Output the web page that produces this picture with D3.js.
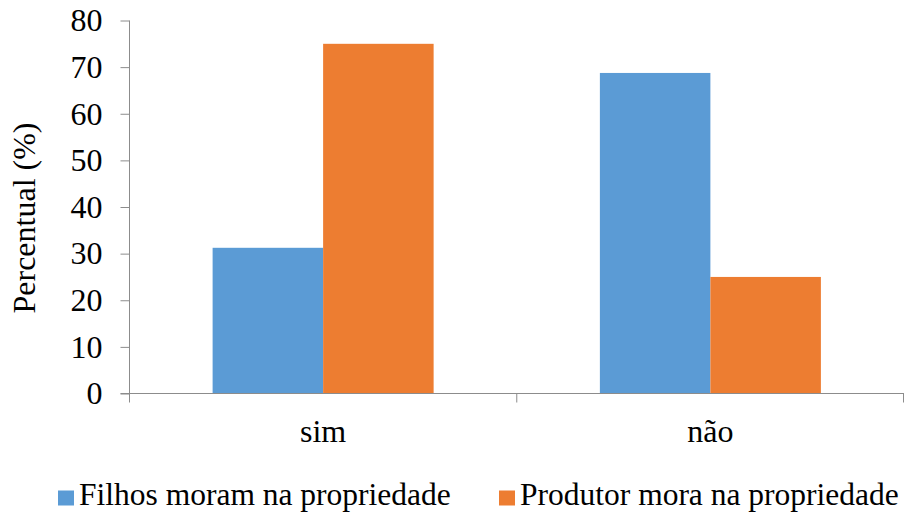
<!DOCTYPE html>
<html>
<head>
<meta charset="utf-8">
<script src="https://cdn.jsdelivr.net/npm/d3@7"></script>
<style>
  html, body { margin: 0; padding: 0; background: #fff; }
  #chart text { font-family: "Liberation Serif", "Times New Roman", serif; }
</style>
</head>
<body>
<svg id="chart" width="905" height="515"></svg>
<script>
// Categories and series
const categories = ["sim", "não"];
const seriesNames = ["Filhos moram na propriedade", "Produtor mora na propriedade"];
const filhosValues = [31.25, 68.75];
const produtorValues = [75, 25];
const yTicks = [0, 10, 20, 30, 40, 50, 60, 70, 80];
const colors = ["#5B9BD5", "#ED7D31"];

const svg = d3.select("#chart");
const margin = { left: 129.5, right: 1, top: 20.5, bottom: 121.5 };
const W = 905, H = 515;

const x0 = d3.scaleBand()
  .domain(categories)
  .range([margin.left, W - margin.right])
  .paddingInner(0.4293)
  .paddingOuter(0.2146);

const x1 = d3.scaleBand()
  .domain(seriesNames)
  .range([0, x0.bandwidth()])
  .padding(0);

const y = d3.scaleLinear()
  .domain([0, 80])
  .range([H - margin.bottom, margin.top]);

const rows = categories.map((c, i) => ({
  cat: c,
  vals: [
    { s: seriesNames[0], v: filhosValues[i] },
    { s: seriesNames[1], v: produtorValues[i] }
  ]
}));

// Bars
svg.append("g").selectAll("g")
  .data(rows)
  .join("g")
  .attr("transform", d => `translate(${x0(d.cat)},0)`)
  .selectAll("rect")
  .data(d => d.vals)
  .join("rect")
  .attr("x", d => x1(d.s))
  .attr("y", d => y(d.v))
  .attr("width", x1.bandwidth())
  .attr("height", d => y(0) - y(d.v))
  .attr("fill", (d, i) => colors[i]);

const axisColor = "#8c8c8c";

// Y axis
const yAxis = svg.append("g")
  .attr("transform", `translate(${margin.left},0)`)
  .call(d3.axisLeft(y).tickValues(yTicks).tickSize(9).tickPadding(18))
  .attr("font-family", null)
  .attr("font-size", null);
yAxis.select(".domain").attr("stroke", axisColor).attr("d", `M0,${y(80)}V${y(0)}`);
yAxis.selectAll(".tick line").attr("stroke", axisColor);
yAxis.selectAll(".tick text")
  .attr("fill", "#000")
  .style("font-size", "32px");

// X axis with boundary ticks between categories
const xAxisY = y(0);
const xg = svg.append("g");
xg.append("line")
  .attr("x1", margin.left - 9).attr("x2", W - margin.right)
  .attr("y1", xAxisY).attr("y2", xAxisY)
  .attr("stroke", axisColor);
const step = x0.step();
const boundaries = [margin.left, margin.left + step, W - margin.right - 0.5];
xg.selectAll("line.b")
  .data(boundaries)
  .join("line")
  .attr("class", "b")
  .attr("x1", d => d).attr("x2", d => d)
  .attr("y1", xAxisY).attr("y2", xAxisY + 9)
  .attr("stroke", axisColor);
xg.selectAll("text")
  .data(categories)
  .join("text")
  .attr("x", d => x0(d) + x0.bandwidth() / 2)
  .attr("y", 442)
  .attr("text-anchor", "middle")
  .style("font-size", "32px")
  .text(d => d);

// Y axis title
svg.append("text")
  .attr("transform", `translate(35,${(y(0) + y(80)) / 2 + 11}) rotate(-90)`)
  .attr("text-anchor", "middle")
  .style("font-size", "32px")
  .text("Percentual (%)");

// Legend
const legendX = [58, 499];
const lg = svg.append("g").selectAll("g")
  .data(seriesNames)
  .join("g")
  .attr("transform", (d, i) => `translate(${legendX[i]},490.5)`);
lg.append("rect").attr("width", 16).attr("height", 15).attr("fill", (d, i) => colors[i]);
lg.append("text")
  .attr("x", 21).attr("y", 14.5)
  .style("font-size", "31.5px")
  .text(d => d);
</script>
</body>
</html>
